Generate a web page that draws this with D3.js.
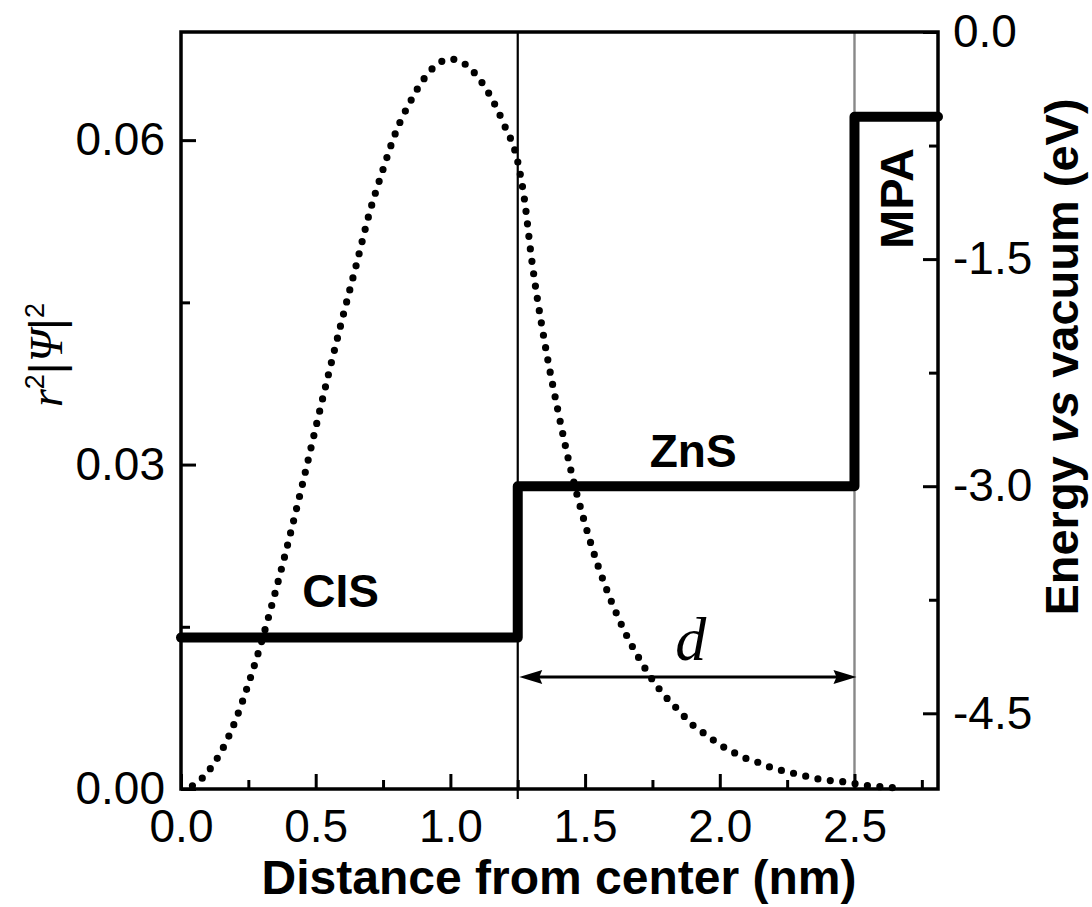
<!DOCTYPE html>
<html>
<head>
<meta charset="utf-8">
<script src="https://cdn.jsdelivr.net/npm/d3@7"></script>
<style>
  html, body { margin: 0; padding: 0; background: #fff; }
  svg { display: block; }
</style>
</head>
<body>
<script>
// Radial probability density r^2|Psi|^2 versus distance from the dot centre
const distance = [0.00, 0.05, 0.10, 0.15, 0.20, 0.25, 0.30, 0.35, 0.40, 0.45,
  0.50, 0.55, 0.60, 0.65, 0.70, 0.75, 0.80, 0.85, 0.90, 0.95,
  1.00, 1.05, 1.10, 1.15, 1.20, 1.25, 1.275, 1.30, 1.35, 1.40,
  1.45, 1.50, 1.55, 1.60, 1.65, 1.70, 1.75, 1.80, 1.85, 1.90,
  1.95, 2.00, 2.05, 2.10, 2.15, 2.20, 2.25, 2.30, 2.35, 2.40,
  2.45, 2.50, 2.55, 2.60, 2.65];
const density = [0.0000, 0.0004, 0.0016, 0.0035, 0.0062, 0.0097, 0.0137, 0.0182, 0.0230, 0.0281,
  0.0334, 0.0386, 0.0436, 0.0484, 0.0533, 0.0573, 0.0609, 0.0635, 0.0656, 0.0670,
  0.0675, 0.0671, 0.0659, 0.0640, 0.0614, 0.0580, 0.0545, 0.0493, 0.0413, 0.0349,
  0.0292, 0.0245, 0.0205, 0.0172, 0.0144, 0.0121, 0.0101, 0.0085, 0.0072, 0.0059,
  0.0050, 0.0041, 0.0034, 0.0028, 0.0024, 0.0019, 0.0016, 0.0013, 0.0010, 0.0008,
  0.0007, 0.0005, 0.0003, 0.0002, 0.0001];

// Conduction band energy profile (eV vs vacuum): CIS core, ZnS shell, MPA ligand
const levelX = [0, 1.25, 2.5, 2.81];
const levelE = [-4.0, -3.0, -0.56, -0.56];
const regionNames = ["CIS", "ZnS", "MPA"];

// Interfaces: core/shell (black) and shell/ligand (grey)
const interfaces = [1.25, 2.5];

// Axis ticks
const xTicks = [0, 0.5, 1.0, 1.5, 2.0, 2.5];
const xMinorTicks = [0.25, 0.75, 1.25, 1.75, 2.25, 2.75];
const leftTicks = [0, 0.03, 0.06];
const leftMinorTicks = [0.015, 0.045];
const rightTicks = [0, -1.5, -3.0, -4.5];
const rightMinorTicks = [-0.75, -2.25, -3.75];

const W = 1092, H = 907;
const SANS = "'Liberation Sans', Arial, Helvetica, sans-serif";
const SERIF = "'Liberation Serif', 'Times New Roman', Times, serif";

const x = d3.scaleLinear().domain([0, 2.81]).range([181, 938]);
const yL = d3.scaleLinear().domain([0, 0.07]).range([789, 32]);
const yR = d3.scaleLinear().domain([-5, 0]).range([789, 32]);

const svg = d3.select("body").append("svg")
  .attr("width", W).attr("height", H)
  .attr("viewBox", `0 0 ${W} ${H}`);
svg.append("rect").attr("width", W).attr("height", H).attr("fill", "#fff");

// Interface lines
svg.append("line")
  .attr("x1", x(interfaces[0])).attr("x2", x(interfaces[0]))
  .attr("y1", yL(0.07)).attr("y2", yL(0) + 10)
  .attr("stroke", "#000").attr("stroke-width", 2.2);
svg.append("line")
  .attr("x1", x(interfaces[1])).attr("x2", x(interfaces[1]))
  .attr("y1", yL(0.07)).attr("y2", yL(0))
  .attr("stroke", "#888").attr("stroke-width", 2.4);

// Dotted density curve
const densityPts = distance.map((d, i) => [d, density[i]]);
svg.append("path")
  .datum(densityPts)
  .attr("d", d3.line().x(d => x(d[0])).y(d => yL(d[1])).curve(d3.curveMonotoneX))
  .attr("fill", "none")
  .attr("stroke", "#000")
  .attr("stroke-width", 7.2)
  .attr("stroke-linecap", "round")
  .attr("stroke-dasharray", "0 12.5")
  .attr("stroke-dashoffset", -12);

// Energy level profile
const levelPts = levelX.map((d, i) => [d, levelE[i]]);
svg.append("path")
  .datum(levelPts)
  .attr("d", d3.line().x(d => x(d[0])).y(d => yR(d[1])).curve(d3.curveStepAfter))
  .attr("fill", "none")
  .attr("stroke", "#000")
  .attr("stroke-width", 10)
  .attr("stroke-linejoin", "round")
  .attr("stroke-linecap", "round");

// Shell thickness arrow (d)
const arrowE = -4.26;
const ay = yR(arrowE);
const ax1 = x(interfaces[0]) + 1.5, ax2 = x(interfaces[1]) + 2;
svg.append("line")
  .attr("x1", ax1 + 10).attr("x2", ax2 - 10)
  .attr("y1", ay).attr("y2", ay)
  .attr("stroke", "#000").attr("stroke-width", 3);
svg.append("path")
  .attr("d", `M${ax1},${ay} L${ax1 + 23},${ay - 7} L${ax1 + 20},${ay} L${ax1 + 23},${ay + 7} Z`)
  .attr("fill", "#000");
svg.append("path")
  .attr("d", `M${ax2},${ay} L${ax2 - 23},${ay - 7} L${ax2 - 20},${ay} L${ax2 - 23},${ay + 7} Z`)
  .attr("fill", "#000");

// Frame
svg.append("rect")
  .attr("x", 181).attr("y", 32)
  .attr("width", 938 - 181).attr("height", 789 - 32)
  .attr("fill", "none").attr("stroke", "#000").attr("stroke-width", 3.5);

function styleAxis(g) {
  g.select(".domain").remove();
  g.selectAll(".tick line").attr("stroke", "#000").attr("stroke-width", 3);
  g.selectAll(".tick text")
    .attr("fill", "#000")
    .style("font-family", SANS)
    .style("font-size", "46px");
}

// Bottom axis
svg.append("g").attr("transform", "translate(0,789)")
  .call(d3.axisBottom(x).tickValues(xTicks).tickSize(-15).tickPadding(20)
    .tickFormat(d => d.toFixed(1)))
  .call(styleAxis);
svg.append("g").attr("transform", "translate(0,789)")
  .call(d3.axisBottom(x).tickValues(xMinorTicks).tickSize(-9).tickFormat(""))
  .call(styleAxis);

// Left axis
svg.append("g").attr("transform", "translate(181,0)")
  .call(d3.axisLeft(yL).tickValues(leftTicks).tickSize(-15).tickPadding(16)
    .tickFormat(d => d.toFixed(2)))
  .call(styleAxis);
svg.append("g").attr("transform", "translate(181,0)")
  .call(d3.axisLeft(yL).tickValues(leftMinorTicks).tickSize(-9).tickFormat(""))
  .call(styleAxis);

// Right axis
svg.append("g").attr("transform", "translate(938,0)")
  .call(d3.axisRight(yR).tickValues(rightTicks).tickSize(-15).tickPadding(15)
    .tickFormat(d => d.toFixed(1)))
  .call(styleAxis);
svg.append("g").attr("transform", "translate(938,0)")
  .call(d3.axisRight(yR).tickValues(rightMinorTicks).tickSize(-9).tickFormat(""))
  .call(styleAxis);

// Region labels
svg.append("text")
  .attr("x", x(0.45)).attr("y", yR(-3.80))
  .style("font-family", SANS).style("font-size", "46px").style("font-weight", "bold")
  .text(regionNames[0]);
svg.append("text")
  .attr("x", x(1.74)).attr("y", yR(-2.87))
  .style("font-family", SANS).style("font-size", "46px").style("font-weight", "bold")
  .text(regionNames[1]);
svg.append("text")
  .attr("transform", `translate(${x(2.716)},${yR(-1.10)}) rotate(-90)`)
  .attr("text-anchor", "middle")
  .style("font-family", SANS).style("font-size", "47px").style("font-weight", "bold")
  .text(regionNames[2]);

// Shell thickness label
svg.append("text")
  .attr("x", x(1.835)).attr("y", yR(-4.15))
  .style("font-family", SERIF).style("font-size", "62px").style("font-style", "italic")
  .text("d");

// X axis title
svg.append("text")
  .attr("x", 559).attr("y", 894)
  .attr("text-anchor", "middle")
  .style("font-family", SANS).style("font-size", "48px").style("font-weight", "bold")
  .text("Distance from center (nm)");

// Left axis title: r^2|Psi|^2
const lt = svg.append("text")
  .attr("transform", "translate(62,355) rotate(-90)")
  .attr("text-anchor", "middle")
  .style("font-family", SANS).style("font-size", "46px");
lt.append("tspan").style("font-family", SERIF).style("font-style", "italic").text("r");
lt.append("tspan").attr("dy", -18).style("font-size", "27px").text("2");
lt.append("tspan").attr("dy", 18).text("|");
lt.append("tspan").style("font-family", SERIF).style("font-style", "italic").text("\u03A8");
lt.append("tspan").text("|");
lt.append("tspan").attr("dy", -18).style("font-size", "27px").text("2");

// Right axis title
const rt = svg.append("text")
  .attr("transform", "translate(1078,357) rotate(-90)")
  .attr("text-anchor", "middle")
  .style("font-family", SANS).style("font-size", "47px").style("font-weight", "bold");
rt.append("tspan").text("Energy ");
rt.append("tspan").style("font-style", "italic").text("vs");
rt.append("tspan").text(" vacuum (eV)");
</script>
</body>
</html>
